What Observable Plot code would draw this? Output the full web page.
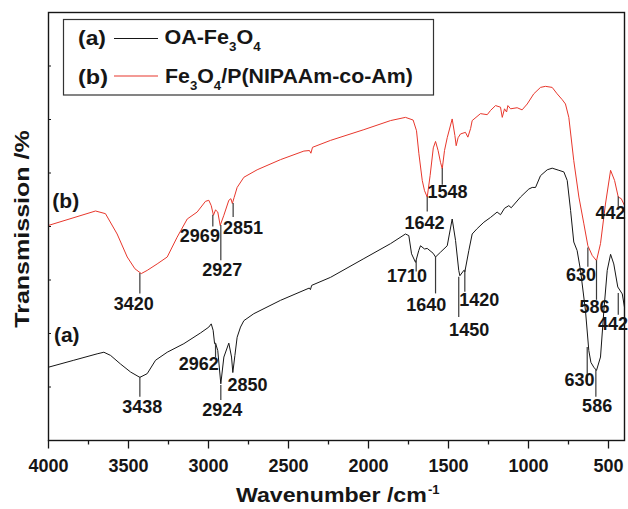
<!DOCTYPE html>
<html><head><meta charset="utf-8">
<script src="https://cdn.jsdelivr.net/npm/d3@7"></script>
<script src="https://cdn.jsdelivr.net/npm/@observablehq/plot@0.6"></script>
<style>
body{margin:0;background:#fff}
svg{display:block}
svg [aria-label="x-axis tick label"] text{font-weight:bold}
</style>
</head><body><div id="chart"></div>
<script>
// ---- data (wavenumber in cm^-1, transmission in arbitrary %) ----
const seriesA = [[4000,13.7],[3842,15.0],[3696,16.2],[3654,16.5],[3612,15.9],[3550,14.3],[3487,12.8],[3429,11.8],[3383,12.5],[3331,15.0],[3258,16.5],[3154,18.1],[3050,20.1],[2998,21.2],[2983,21.8],[2971,20.6],[2962,18.1],[2956,18.2],[2942,16.8],[2923,10.6],[2904,15.6],[2873,18.2],[2856,15.6],[2848,12.7],[2835,15.9],[2821,19.3],[2800,21.2],[2779,22.4],[2717,23.7],[2550,26.2],[2370,28.5],[2363,28.2],[2355,29.0],[2237,30.5],[2029,34.0],[1862,36.8],[1769,38.6],[1748,38.3],[1731,34.9],[1706,33.3],[1686,35.5],[1675,36.4],[1650,35.8],[1633,35.9],[1596,35.0],[1581,34.3],[1550,35.2],[1508,36.4],[1477,41.4],[1456,37.4],[1436,31.8],[1429,30.8],[1404,31.8],[1398,31.5],[1373,35.5],[1352,38.6],[1321,39.6],[1279,40.8],[1237,41.7],[1196,42.7],[1175,42.2],[1150,43.4],[1123,43.9],[1108,43.5],[1050,45.5],[998,47.0],[977,47.3],[956,47.3],[925,49.5],[883,50.6],[852,50.9],[810,50.5],[779,50.2],[758,48.6],[737,43.0],[717,37.1],[696,35.5],[675,31.8],[644,24.3],[623,16.8],[610,14.6],[592,13.7],[575,13.1],[550,15.6],[529,24.3],[508,31.8],[487,34.8],[467,33.0],[442,28.7],[414,27.4],[400,24.9]];

const seriesB = [[4000,40.2],[3706,42.9],[3644,42.4],[3571,38.6],[3508,34.3],[3460,32.1],[3420,31.2],[3383,31.8],[3321,33.0],[3258,34.3],[3196,38.0],[3133,41.4],[3071,42.7],[3019,44.7],[2998,44.9],[2983,43.9],[2969,42.1],[2956,43.1],[2942,42.7],[2927,40.2],[2904,42.1],[2873,44.9],[2860,45.2],[2851,44.3],[2840,45.4],[2821,47.3],[2779,49.2],[2696,50.6],[2550,52.5],[2404,54.1],[2369,54.2],[2360,53.7],[2350,54.8],[2237,56.1],[2029,58.1],[1862,59.8],[1769,60.4],[1721,59.9],[1700,57.9],[1685,53.6],[1664,48.6],[1650,46.7],[1633,45.5],[1615,49.5],[1595,54.7],[1581,55.9],[1565,54.2],[1550,52.0],[1539,50.8],[1525,54.2],[1508,56.6],[1477,60.1],[1460,57.0],[1452,55.1],[1440,56.6],[1425,57.3],[1394,57.6],[1379,56.7],[1362,58.3],[1352,59.8],[1300,61.1],[1258,60.9],[1237,61.7],[1206,62.6],[1175,62.3],[1164,60.4],[1150,62.0],[1137,61.4],[1129,62.6],[1112,62.0],[1071,62.2],[1040,61.8],[1008,62.9],[967,64.8],[925,66.0],[894,66.2],[852,66.0],[821,64.8],[789,63.7],[769,62.9],[748,60.4],[717,52.3],[685,45.5],[654,40.5],[629,36.4],[602,34.6],[575,33.6],[550,36.8],[519,44.2],[487,50.5],[462,48.6],[439,45.5],[420,45.2],[400,43.9]];

const seriesTags = ["(a)", "(b)"];
const tagX = [3886, 3892];
const tagY = [19.6, 44.7];

const xTicks = [4000, 3500, 3000, 2500, 2000, 1500, 1000, 500];
const xMinorTicks = [3750, 3250, 2750, 2250, 1750, 1250, 750];
const yTicks = [10, 20, 30, 40, 50, 60, 70];

// leader lines: wavenumber, top, bottom
const leaderX   = [3429, 2973, 2923, 2846, 1633, 1539, 629, 575, 439, 3429, 2956, 2923, 1702, 1581, 1436, 1398, 633, 579, 439];
const leaderTop = [31.2, 42.1, 40.2, 44.3, 45.5, 50.8, 36.0, 33.6, 45.5, 11.8, 18.1, 10.3, 33.6, 34.3, 30.5, 31.8, 17.4, 13.1, 27.5];
const leaderBot = [27.4, 39.9, 33.6, 41.7, 42.7, 47.7, 32.4, 26.2, 43.6, 8.1, 15.5, 7.5, 31.5, 27.4, 23.0, 27.7, 10.9, 8.1, 23.4];

// peak labels: text, wavenumber position, transmission position
const peakText = ["3420","2969","2927","2851","1642","1548","630","586","442","3438","2962","2924","2850","1710","1640","1450","1420","630","586","442"];
const peakX    = [3467, 3054, 2914, 2784, 1650, 1506, 672, 587, 487, 3414, 3061, 2914, 2756, 1759, 1639, 1371, 1308, 681, 571, 472];
const peakY    = [25.4, 38.1, 31.8, 39.6, 40.6, 46.4, 30.8, 24.9, 42.4, 6.2, 14.3, 5.6, 10.3, 30.7, 25.2, 20.7, 26.2, 11.2, 6.4, 21.7];

// legend entries: formula parts (sub = subscript)
const legendA = [{s: "OA-Fe"}, {s: "3", sub: true}, {s: "O"}, {s: "4", sub: true}];
const legendB = [{s: "Fe"}, {s: "3", sub: true}, {s: "O"}, {s: "4", sub: true}, {s: "/P(NIPAAm-co-Am)"}];

const FONT = "'Liberation Sans', Arial, Helvetica, sans-serif";
const RED = "#e8372c";
const INK = "#161616";

const leaders = leaderX.map((x, i) => ({x, y1: leaderTop[i], y2: leaderBot[i]}));
const peaks = peakText.map((t, i) => ({t, x: peakX[i], y: peakY[i]}));
const tags = seriesTags.map((t, i) => ({t, x: tagX[i], y: tagY[i]}));

const chart = Plot.plot({
  width: 628,
  height: 509,
  marginLeft: 48,
  marginRight: 4,
  marginTop: 12,
  marginBottom: 69,
  style: {fontFamily: FONT, fontSize: "18px", color: INK, background: "#fff", overflow: "visible"},
  x: {domain: [4000, 400]},
  y: {domain: [0, 80]},
  marks: [
    Plot.line(seriesA, {x: d => d[0], y: d => d[1], stroke: INK, strokeWidth: 1}),
    Plot.line(seriesB, {x: d => d[0], y: d => d[1], stroke: RED, strokeWidth: 1}),
    Plot.ruleX(leaders, {x: "x", y1: "y1", y2: "y2", stroke: "#3a3a3a", strokeWidth: 1.2}),
    Plot.text(peaks, {x: "x", y: "y", text: "t", fontSize: 18, fontWeight: "bold", fill: INK}),
    Plot.text(tags, {x: "x", y: "y", text: "t", fontSize: 21, fontWeight: "bold", fill: INK}),
    Plot.axisX({ticks: xTicks, tickSize: 8.5, tickPadding: 10.5, tickFormat: d => String(d), fontSize: 18, strokeWidth: 1.3, label: null}),
    Plot.axisX({ticks: xMinorTicks, tickSize: 4.5, tickFormat: () => "", strokeWidth: 1.3, label: null}),
    Plot.axisY({ticks: yTicks, tickSize: -3, tickFormat: () => "", strokeWidth: 1, label: null}),
    Plot.frame({stroke: INK, strokeWidth: 1.4})
  ]
});
document.getElementById("chart").appendChild(chart);

// ---- titles and legend ----
const svg = d3.select(chart);
const g = svg.append("g").attr("font-family", FONT).attr("font-weight", "bold")
  .attr("fill", INK).attr("text-anchor", "start");

// text with optional subscripts, stretched horizontally to a target width
function stretched(parent, x, y, size, width, parts, anchor = "start", rotate = 0) {
  const t = parent.append("text").attr("font-size", size).attr("text-anchor", anchor);
  let down = false;
  parts.forEach(p => {
    const ts = t.append("tspan").text(p.s);
    if (p.sub) { ts.attr("font-size", Math.round(size * 0.62)).attr("dy", down ? 0 : size * 0.33); down = true; }
    else { ts.attr("dy", down ? -size * 0.33 : 0); down = false; }
  });
  const w = t.node().getBBox().width;
  t.attr("transform", `translate(${x},${y}) rotate(${rotate}) scale(${width / w},1)`);
  return t;
}

stretched(g, 236, 501.7, 20, 191, [{s: "Wavenumber /cm"}]);
g.append("text").attr("x", 428).attr("y", 494).attr("font-size", 13).text("-1");

stretched(g, 28.5, 229, 21, 198, [{s: "Transmission /%"}], "middle", -90);

const lg = g.append("g");
lg.append("rect").attr("x", 63.5).attr("y", 19.5).attr("width", 370).attr("height", 75.5)
  .attr("fill", "#fff").attr("stroke", "#333").attr("stroke-width", 1.2);

// row (a)
stretched(lg, 78, 44.5, 21, 28, [{s: seriesTags[0]}]);
lg.append("line").attr("x1", 114).attr("x2", 158).attr("y1", 38.5).attr("y2", 38.5).attr("stroke", INK).attr("stroke-width", 1.2);
stretched(lg, 164.4, 44.3, 21, 97, legendA);

// row (b)
stretched(lg, 78, 83.5, 21, 30, [{s: seriesTags[1]}]);
lg.append("line").attr("x1", 114).attr("x2", 158).attr("y1", 76).attr("y2", 76).attr("stroke", RED).attr("stroke-width", 1.2);
stretched(lg, 165, 83.3, 21, 248, legendB);
</script>
</body></html>
